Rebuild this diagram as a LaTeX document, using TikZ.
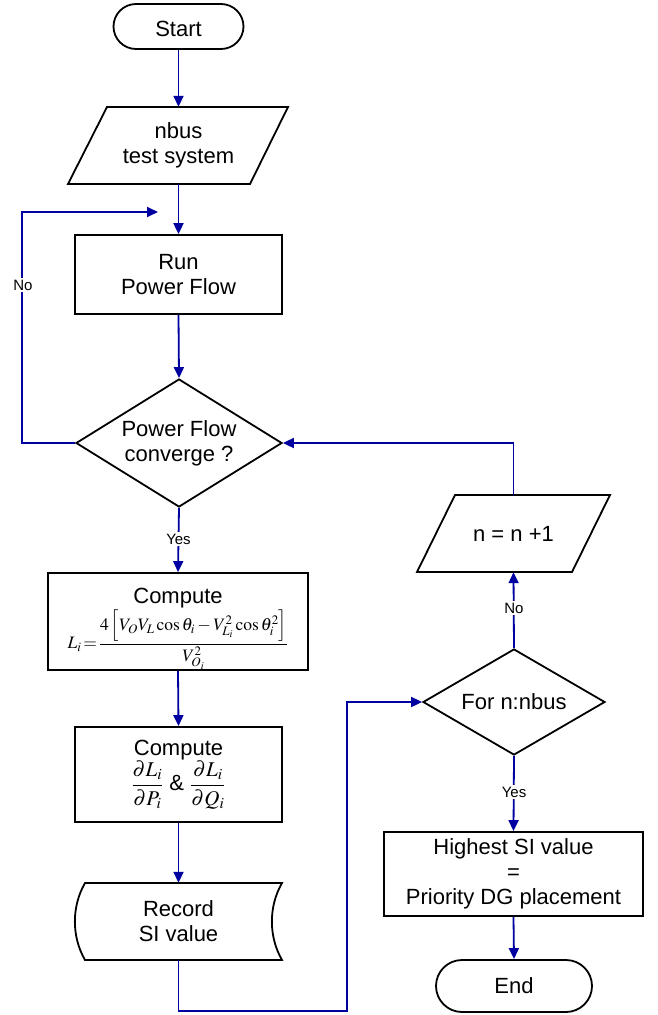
\documentclass[tikz,border=0pt]{standalone}
\usepackage{mathptmx}
\usepackage{fontspec}
\setmainfont{Liberation Sans}
\usetikzlibrary{shapes.geometric,shapes.misc,arrows.meta}
\definecolor{flow}{RGB}{0,0,160}
\begin{document}
\begin{tikzpicture}[x=1pt,y=-1pt,
  txt/.style={align=center, font=\fontsize{22}{25}\selectfont},
  shapeline/.style={draw=black, line width=1.8pt},
  box/.style={txt, shapeline, fill=white, rectangle, inner sep=0pt},
  term/.style={box, rounded rectangle},
  dec/.style={box, diamond, aspect=1.6},
  plain/.style={txt, rectangle, inner sep=0pt},
  flowline/.style={draw=flow, line width=1.8pt},
  arr/.style={flowline, -{Triangle[length=11pt,width=10pt]}},
  lab/.style={fill=white, inner sep=1.5pt, font=\fontsize{15}{17}\selectfont}]
\useasboundingbox (0,0) rectangle (658,1015);

% nodes
\node[term, minimum width=130, minimum height=45, text height=22pt, text depth=2pt] (start) at (178.5,26.5) {Start};
\node[plain, minimum width=142, minimum height=77] (nb) at (178.5,145.5) {nbus\\test system};
\begin{scope}[shift={(nb.center)}]
  \draw[shapeline] (-71.5,-38.5) -- (109.5,-38.5) -- (71.5,38.5) -- (-110.5,38.5) -- cycle;
\end{scope}
\node[box, minimum width=207, minimum height=79] (run) at (178.5,274.5) {Run\\Power Flow};
\node[dec, minimum width=206, minimum height=128] (d1) at (179,443) {Power Flow\\converge ?};
\node[box, minimum width=260, minimum height=97] (c1) at (178,621.5) {\rule{0pt}{30pt}Compute\\[1pt]
  {\fontsize{17.5}{20}\selectfont $\displaystyle L_i\!=\!\frac{4\left[V_O V_L \cos\theta_i - V_{L_i}^2\cos\theta_i^2\right]}{V_{O_i}^2}$}};
\node[box, minimum width=207, minimum height=95] (c2) at (178.5,774.5) {Compute\\
  {\fontsize{21}{24}\selectfont $\displaystyle\frac{\partial L_i}{\partial P_i}$} \& {\fontsize{21}{24}\selectfont $\displaystyle\frac{\partial L_i}{\partial Q_i}$}};
\node[plain, minimum width=190, minimum height=77] (rec) at (178.5,921.5) {Record\\SI value};
\begin{scope}[shift={(rec.center)}]
  \draw[shapeline] (-93.5,-38.5) -- (103.5,-38.5) .. controls (90,-15) and (90,15) .. (103.5,38.5)
    -- (-93.5,38.5) .. controls (-107,15) and (-107,-15) .. (-93.5,-38.5) -- cycle;
\end{scope}
\node[dec, minimum width=182, minimum height=106] (d2) at (514,702) {For n:nbus};
\node[plain, minimum width=117, minimum height=77] (p2) at (513.5,533.5) {n = n +1};
\begin{scope}[shift={(p2.center)}]
  \draw[shapeline] (-58.5,-38.5) -- (96.5,-38.5) -- (58.5,38.5) -- (-96.5,38.5) -- cycle;
\end{scope}
\node[box, minimum width=259, minimum height=84] (hs) at (513.5,874) {Highest SI value\\=\\Priority DG placement};
\node[term, minimum width=156, minimum height=52] (end) at (514,986) {End};

\coordinate (lc) at (158,212);
\coordinate (j) at (347,702);

% connectors
\draw[arr] (start.south) -- (nb.north);
\draw[arr] (nb.south) -- (run.north);
\draw[arr] (run.south) -- (d1.north);
\draw[arr] (d1.west) -- ++(-53,0) |- (lc);
\node[lab] (no1) at (23,285) {No};
\draw[arr] (d1.south) -- (c1.north);
\node[lab] (yes1) at (178.5,539) {Yes};
\draw[arr] (c1.south) -- (c2.north);
\draw[arr] (c2.south) -- (rec.north);
\draw[arr] (rec.south) -- ++(0,51) -| (j) -- (d2.west);
\draw[arr] (d2.north) -- (p2.south);
\node[lab] (no2) at (514,608) {No};
\draw[arr] (p2.north) |- (d1.east);
\draw[arr] (d2.south) -- (hs.north);
\node[lab] (yes2) at (514,792) {Yes};
\draw[arr] (hs.south) -- (end.north);
\end{tikzpicture}
\end{document}
